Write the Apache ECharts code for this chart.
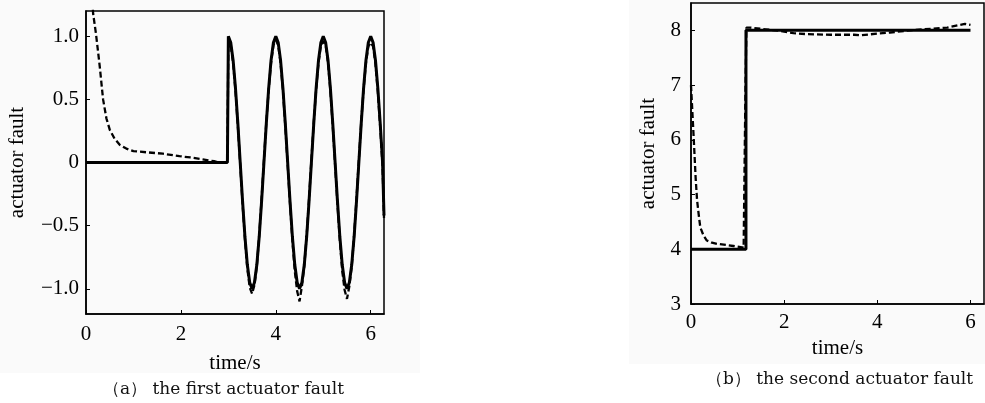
<!DOCTYPE html>
<html>
<head>
<meta charset="utf-8">
<script src="https://cdn.jsdelivr.net/npm/echarts@6/dist/echarts.min.js"></script>
<style>html,body{margin:0;padding:0;background:#fff;}#c{width:985px;height:403px;}</style>
</head>
<body>
<div id="c"></div>
<script>
// ---- Panel (a): first actuator fault ----
var aActualT = [0, 2.98, 3.0, 3.05, 3.1, 3.15, 3.2, 3.25, 3.3, 3.35, 3.4, 3.45, 3.5, 3.55, 3.6, 3.65, 3.7, 3.75, 3.8, 3.85, 3.9, 3.95,
  4.0, 4.05, 4.1, 4.15, 4.2, 4.25, 4.3, 4.35, 4.4, 4.45, 4.5, 4.55, 4.6, 4.65, 4.7, 4.75, 4.8, 4.85, 4.9, 4.95,
  5.0, 5.05, 5.1, 5.15, 5.2, 5.25, 5.3, 5.35, 5.4, 5.45, 5.5, 5.55, 5.6, 5.65, 5.7, 5.75, 5.8, 5.85, 5.9, 5.95,
  6.0, 6.05, 6.1, 6.15, 6.2, 6.25, 6.28];
var aActual = [0, 0, 1.0, 0.95, 0.81, 0.59, 0.31, 0.0, -0.31, -0.59, -0.81, -0.95, -1.0, -0.95, -0.81, -0.59, -0.31, 0.0, 0.31, 0.59, 0.81, 0.95,
  1.0, 0.95, 0.81, 0.59, 0.31, 0.0, -0.31, -0.59, -0.81, -0.95, -1.0, -0.95, -0.81, -0.59, -0.31, 0.0, 0.31, 0.59, 0.81, 0.95,
  1.0, 0.95, 0.81, 0.59, 0.31, 0.0, -0.31, -0.59, -0.81, -0.95, -1.0, -0.95, -0.81, -0.59, -0.31, 0.0, 0.31, 0.59, 0.81, 0.95,
  1.0, 0.95, 0.81, 0.59, 0.31, 0.0, -0.42];
var aEstT = [0.1, 0.15, 0.21, 0.29, 0.36, 0.43, 0.5, 0.6, 0.71, 0.85, 1.0, 1.3, 1.62, 1.97, 2.2, 2.46, 2.7, 2.81, 2.95, 2.98,
  3.0, 3.05, 3.1, 3.15, 3.2, 3.25, 3.3, 3.35, 3.4, 3.45, 3.5, 3.55, 3.6, 3.65, 3.7, 3.75, 3.8, 3.85, 3.9, 3.95,
  4.0, 4.05, 4.1, 4.15, 4.2, 4.25, 4.3, 4.35, 4.4, 4.45, 4.5, 4.55, 4.6, 4.65, 4.7, 4.75, 4.8, 4.85, 4.9, 4.95,
  5.0, 5.05, 5.1, 5.15, 5.2, 5.25, 5.3, 5.35, 5.4, 5.45, 5.5, 5.55, 5.6, 5.65, 5.7, 5.75, 5.8, 5.85, 5.9, 5.95,
  6.0, 6.05, 6.1, 6.15, 6.2, 6.25, 6.28];
var aEst = [1.5, 1.18, 1.02, 0.76, 0.5, 0.35, 0.26, 0.19, 0.14, 0.11, 0.09, 0.08, 0.07, 0.05, 0.04, 0.025, 0.01, 0.0, 0.0, 0.02,
  0.97, 0.93, 0.79, 0.57, 0.29, -0.02, -0.33, -0.61, -0.84, -0.99, -1.04, -0.97, -0.82, -0.58, -0.29, 0.02, 0.32, 0.58, 0.79, 0.93,
  0.97, 0.93, 0.79, 0.57, 0.29, -0.02, -0.33, -0.62, -0.86, -1.02, -1.1, -0.98, -0.82, -0.58, -0.29, 0.02, 0.32, 0.58, 0.79, 0.93,
  0.96, 0.93, 0.79, 0.57, 0.29, -0.02, -0.33, -0.62, -0.86, -1.01, -1.08, -0.98, -0.82, -0.58, -0.29, 0.02, 0.32, 0.58, 0.79, 0.92,
  0.95, 0.92, 0.78, 0.56, 0.28, -0.03, -0.44];
var aXTicks = [0, 2, 4, 6];
var aYTicks = [-1.0, -0.5, 0, 0.5, 1.0];
var aYLabels = ['\u22121.0', '\u22120.5', '0', '0.5', '1.0'];

// ---- Panel (b): second actuator fault ----
var bActualT = [0, 1.18, 1.18, 6.0];
var bActual = [4, 4, 8, 8];
var bEstT = [0, 0.03, 0.06, 0.1, 0.13, 0.17, 0.2, 0.27, 0.34, 0.45, 0.56, 0.75, 0.91, 1.13, 1.15, 1.17, 1.19, 1.27, 1.6, 1.91, 2.2, 2.5, 3.0, 3.5, 3.63, 4.0, 4.27, 4.7, 5.0, 5.5, 5.88, 6.0];
var bEst = [7.0, 6.5, 6.0, 5.3, 4.9, 4.6, 4.4, 4.25, 4.16, 4.12, 4.1, 4.08, 4.06, 4.03, 4.05, 7.0, 8.05, 8.05, 8.02, 7.99, 7.95, 7.93, 7.92, 7.92, 7.91, 7.94, 7.96, 8.0, 8.02, 8.05, 8.12, 8.1];
var bXTicks = [0, 2, 4, 6];
var bYTicks = [3, 4, 5, 6, 7, 8];

var captionA = '\uff08a\uff09 the first actuator fault';
var captionB = '\uff08b\uff09 the second actuator fault';
var xName = 'time/s';
var yName = 'actuator fault';

function zip(t, v) { return t.map(function (x, i) { return [x, v[i]]; }); }

var serif = '"Liberation Serif", "Times New Roman", Times, serif';
var chart = echarts.init(document.getElementById('c'), null, { renderer: 'canvas' });

function xAxisCfg(gi, max, ticks, gap, margin) {
  return {
    gridIndex: gi, type: 'value', min: 0, max: max,
    name: xName, nameLocation: 'middle', nameGap: gap,
    nameTextStyle: { fontFamily: serif, fontSize: 21, color: '#000' },
    axisLine: { show: true, onZero: false, lineStyle: { color: '#000', width: 1.5 } },
    axisTick: { show: true, inside: true, length: 4, customValues: ticks, lineStyle: { color: '#000', width: 1 } },
    axisLabel: { customValues: ticks, fontFamily: serif, fontSize: 21, color: '#000', margin: margin },
    splitLine: { show: false }
  };
}
function yAxisCfg(gi, min, max, ticks, labels, gap, margin) {
  return {
    gridIndex: gi, type: 'value', min: min, max: max,
    name: yName, nameLocation: 'middle', nameGap: gap,
    nameTextStyle: { fontFamily: serif, fontSize: 21, color: '#000' },
    axisLine: { show: true, onZero: false, lineStyle: { color: '#000', width: 1.5 } },
    axisTick: { show: true, inside: true, length: 4, customValues: ticks, lineStyle: { color: '#000', width: 1 } },
    axisLabel: {
      customValues: ticks, fontFamily: serif, fontSize: 21, color: '#000', margin: margin,
      formatter: function (v) {
        if (!labels) return String(v);
        for (var i = 0; i < ticks.length; i++) if (Math.abs(ticks[i] - v) < 1e-9) return labels[i];
        return '';
      }
    },
    splitLine: { show: false }
  };
}

var option = {
  animation: false,
  backgroundColor: '#ffffff',
  graphic: [
    { type: 'rect', silent: true, z: -10, shape: { x: 0, y: 0, width: 420, height: 373 }, style: { fill: '#fafafa' } },
    { type: 'rect', silent: true, z: -10, shape: { x: 629, y: 0, width: 356, height: 364 }, style: { fill: '#fafafa' } },
    { type: 'text', left: 103, top: 381, style: { text: captionA, font: '17px "DejaVu Serif"', fill: '#111' } },
    { type: 'text', left: 706, top: 371, style: { text: captionB, font: '17px "DejaVu Serif"', fill: '#111' } }
  ],
  grid: [
    { left: 86, right: 601, top: 11, bottom: 89, show: true, borderColor: '#000', borderWidth: 1.5, backgroundColor: 'transparent' },
    { left: 691, right: 1, top: 3, bottom: 99, show: true, borderColor: '#000', borderWidth: 1.5, backgroundColor: 'transparent' }
  ],
  xAxis: [
    xAxisCfg(0, 6.28, aXTicks, 39, 10),
    xAxisCfg(1, 6.29, bXTicks, 33, 8)
  ],
  yAxis: [
    yAxisCfg(0, -1.2, 1.2, aYTicks, aYLabels, 58, 7),
    yAxisCfg(1, 3, 8.5, bYTicks, null, 32, 10)
  ],
  series: [
    { type: 'line', xAxisIndex: 0, yAxisIndex: 0, data: zip(aActualT, aActual), showSymbol: false, clip: true,
      lineStyle: { color: '#000', width: 3 } },
    { type: 'line', xAxisIndex: 0, yAxisIndex: 0, data: zip(aEstT, aEst), showSymbol: false, clip: true,
      lineStyle: { color: '#000', width: 2.3, type: [6, 3] } },
    { type: 'line', xAxisIndex: 1, yAxisIndex: 1, data: zip(bActualT, bActual), showSymbol: false, clip: true,
      lineStyle: { color: '#000', width: 3 } },
    { type: 'line', xAxisIndex: 1, yAxisIndex: 1, data: zip(bEstT, bEst), showSymbol: false, clip: true,
      lineStyle: { color: '#000', width: 2.3, type: [6, 3] } }
  ]
};
chart.setOption(option);
</script>
</body>
</html>
